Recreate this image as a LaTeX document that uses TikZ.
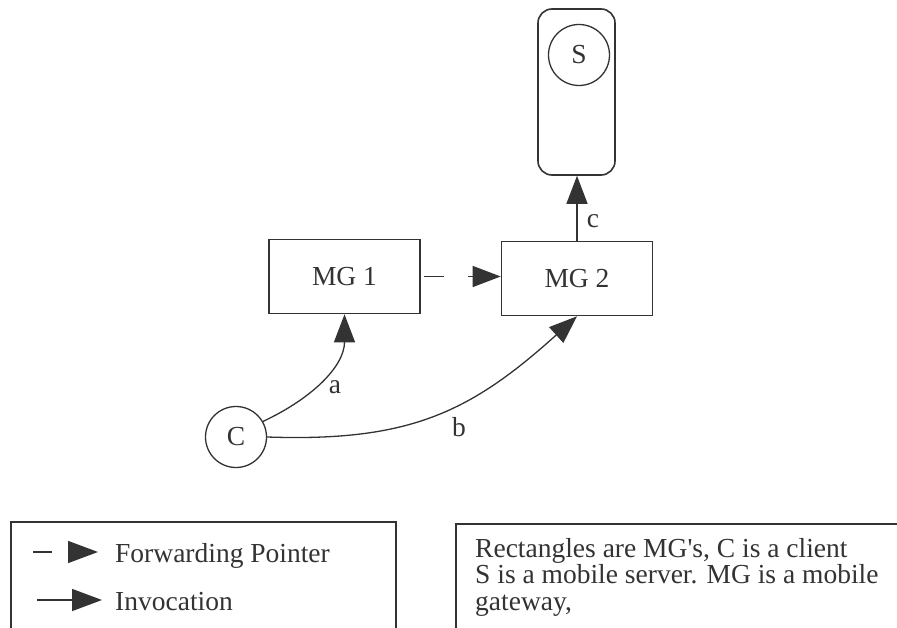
\documentclass[tikz,border=0pt]{standalone}
\usepackage{fontspec}
\setmainfont{Liberation Serif}
\usetikzlibrary{arrows.meta}
\definecolor{ink}{HTML}{333333}
\begin{document}
\begin{tikzpicture}[x=1pt,y=-1pt,
  every node/.style={text=ink},
  txt/.style={font=\fontsize{27.5}{30}\selectfont, inner sep=0pt},
  lbl/.style={font=\fontsize{27.5}{30}\selectfont, inner sep=1pt},
  mgbox/.style={draw=ink, line width=1.6pt, minimum width=151pt, minimum height=74pt,
                inner sep=0pt, font=\fontsize{27.5}{30}\selectfont},
  ring/.style={draw=ink, line width=1.3pt, circle, minimum size=61pt, inner sep=0pt,
               font=\fontsize{27.5}{30}\selectfont},
  frame/.style={draw=ink, line width=1.6pt, anchor=north west, inner sep=0pt},
  headtip/.style={-{Triangle[length=28pt,width=21pt]}},
  conn/.style={draw=ink, line width=1.3pt, headtip},
  fwd/.style={conn, dash pattern=on 20pt off 24pt},
]
% page
\fill[white] (0,0) rectangle (897,628);
\path[use as bounding box] (0,0) rectangle (897,628);

% mobile server host
\node[draw=ink, line width=1.6pt, rounded corners=14pt, minimum width=77pt,
      minimum height=166pt, inner sep=0pt] (host) at (576.5,92) {};
\node[ring] (S) at (579,55) {S};

% mobile gateways and client
\node[mgbox] (MG1) at (344.5,276.5) {MG 1};
\node[mgbox] (MG2) at (577,278.5) {MG 2};
\node[ring] (C) at (236,437) {C};

% connectors
\draw[fwd, shorten <=3pt] (MG1.east) -- (MG1.east -| MG2.west);
\draw[conn] (MG2.north) -- (MG2.north |- host.south);
\draw[conn] (C.30) to[out=25, in=-90] (MG1.south);
\draw[conn] (C.east) to[out=-2, in=-138, looseness=1.1] (MG2.south);

% connector labels
\node[lbl] (la) at (335,387) {a};
\node[lbl] (lb) at (459,427) {b};
\node[lbl] (lc) at (593,221) {c};

% legend
\node[frame, minimum width=385pt, minimum height=140pt] (legend) at (10,521) {};
\coordinate (f1) at (33,552);
\coordinate (f2) at (98,552);
\coordinate (i1) at (37,600);
\coordinate (i2) at (102,600);
\draw[draw=ink, line width=1.4pt, -{Triangle[length=30pt,width=22pt]},
      dash pattern=on 19pt off 16pt] (f1) -- (f2);
\draw[draw=ink, line width=1.4pt, -{Triangle[length=30pt,width=22pt]}] (i1) -- (i2);
\node[txt, anchor=base west] (tf) at (115,562) {Forwarding Pointer};
\node[txt, anchor=base west] (ti) at (115,610) {Invocation};

% notes
\node[frame, minimum width=460pt, minimum height=140pt] (notes) at (455,523) {};
\node[txt, anchor=base west] (n1) at (475,557) {Rectangles are MG\textquotesingle s, C is a client};
\node[txt, anchor=base west] (n2) at (475,583) {S is a mobile server. MG is a mobile};
\node[txt, anchor=base west] (n3) at (475,610) {gateway,};
\end{tikzpicture}
\end{document}
